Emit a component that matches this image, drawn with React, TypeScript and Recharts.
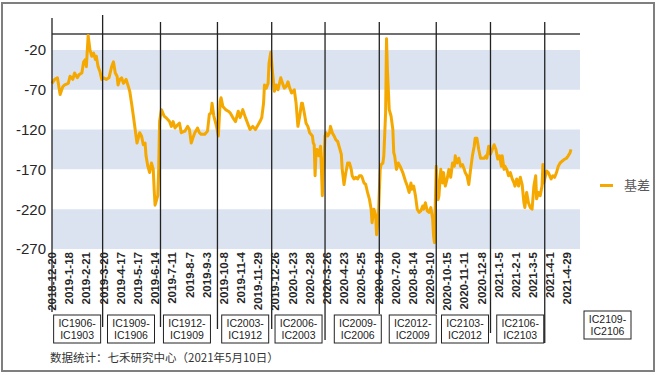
import React from "react";
import { LineChart, Line, XAxis, YAxis, ReferenceArea, ReferenceLine } from "recharts";

// x axis labels, one every 19 trading days starting at 2018-12-20
const tickLabels = [
  "2018-12-20", "2019-1-18", "2019-2-21", "2019-3-20", "2019-4-17", "2019-5-17",
  "2019-6-14", "2019-7-11", "2019-8-7", "2019-9-3", "2019-10-8", "2019-11-4",
  "2019-11-29", "2019-12-26", "2020-1-23", "2020-2-28", "2020-3-26", "2020-4-23",
  "2020-5-25", "2020-6-19", "2020-7-20", "2020-8-14", "2020-9-10", "2020-10-15",
  "2020-11-11", "2020-12-8", "2021-1-5", "2021-2-1", "2021-3-5", "2021-4-1", "2021-4-29",
];
const tickDays = tickLabels.map((_, i) => i * 19);

// trading-day index -> basis (IC continuous)
const days = [
  0, 3, 6, 9, 12, 14, 18, 20, 23, 25, 28, 30, 33, 35, 37, 38, 40, 42, 44, 46, 48, 49, 51, 53, 55, 57,
  60, 63, 66, 68, 70, 72, 73, 75, 77, 79, 82, 85, 86, 88, 90, 92, 94, 96, 97, 99, 101, 103, 104, 106,
  108, 110, 112, 113, 114, 117, 118, 119, 121, 124, 126, 130, 132, 134, 136, 139, 141, 143, 147, 150,
  152, 154, 156, 158, 161, 163, 165, 169, 172, 174, 176, 177, 179, 182, 184, 186, 187, 189, 192, 195,
  197, 200, 203, 206, 208, 211, 214, 217, 219, 222, 225, 228, 230, 232, 234, 235, 237, 239, 240, 242,
  244, 246, 248, 250, 252, 253, 255, 257, 259, 261, 263, 265, 268, 270, 272, 274, 276, 277, 279, 281,
  283, 285, 288, 289, 290, 291, 292, 293, 295, 297, 298, 299, 300, 301, 302, 303, 305, 307, 308, 310,
  312, 314, 316, 318, 320, 321, 323, 325, 327, 329, 331, 332, 334, 336, 338, 340, 342, 343, 345, 347,
  349, 351, 353, 354, 356, 358, 359, 361, 363, 364, 366, 367, 369, 370, 371, 373, 375, 377, 378, 379,
  381, 383, 385, 388, 391, 393, 395, 397, 398, 400, 402, 404, 406, 408, 410, 411, 413, 415, 417, 419,
  421, 422, 423, 424, 425, 427, 428, 430, 432, 433, 435, 437, 439, 441, 443, 445, 446, 448, 450, 452,
  454, 456, 457, 459, 461, 463, 465, 467, 468, 470, 472, 474, 476, 478, 480, 481, 483, 485, 487, 489,
  491, 493, 495, 497, 498, 500, 501, 503, 505, 507, 509, 511, 512, 514, 516, 518, 520, 522, 523, 525,
  527, 529, 531, 533, 535, 536, 538, 540, 542, 543, 544, 547, 549, 552, 554, 556, 558, 560, 562, 564,
  566, 569, 571, 573, 574,
];
const basis = [
  -62, -57, -55, -76, -66, -64, -62, -53, -57, -49, -55, -51, -49, -35, -32, -41, -2, -20, -28, -24, -32, -28, -41, -47, -57, -55,
  -57, -55, -41, -35, -49, -53, -64, -57, -55, -62, -57, -68, -72, -87, -103, -120, -137, -128, -124, -128, -139, -137, -153, -166,
  -174, -162, -170, -195, -215, -203, -170, -110, -95, -103, -105, -110, -116, -110, -118, -114, -112, -124, -122, -116,
  -120, -137, -130, -124, -118, -124, -126, -126, -122, -101, -99, -87, -103, -116, -128, -85, -80, -91, -95, -97,
  -99, -105, -110, -97, -105, -95, -105, -114, -120, -116, -120, -114, -110, -105, -87, -64, -68, -62, -37, -23,
  -49, -72, -64, -70, -60, -55, -62, -68, -66, -60, -68, -74, -70, -87, -116, -103, -87, -87, -99, -112,
  -116, -124, -128, -137, -139, -178, -150, -145, -153, -141, -170, -203, -175, -153, -128, -124, -128, -124, -116, -124,
  -128, -133, -135, -143, -151, -170, -189, -174, -162, -162, -170, -178, -182, -180, -182, -178, -178, -180, -187, -189,
  -199, -207, -220, -237, -220, -228, -252, -228, -170, -164, -162, -153, -99, -6, -45, -95, -103, -120, -149, -153,
  -170, -162, -166, -174, -185, -191, -199, -187, -195, -191, -203, -220, -224, -222, -216, -220, -212, -222, -224, -218,
  -232, -253, -262, -212, -166, -208, -203, -170, -187, -174, -191, -182, -170, -180, -162, -166, -153, -162, -156, -166,
  -164, -170, -174, -178, -189, -170, -153, -141, -131, -131, -145, -156, -156, -156, -153, -156, -141, -151, -145, -139,
  -145, -157, -153, -166, -153, -170, -166, -170, -178, -174, -182, -187, -191, -182, -191, -180, -189, -212, -218, -199,
  -212, -218, -220, -191, -178, -207, -199, -203, -191, -164, -187, -172, -174, -182, -178, -180, -174, -166, -162, -160,
  -158, -156, -153, -149, -145,
];

// contract roll days and the spread labels
const rollDays = [56, 120, 183, 243, 302, 362, 425, 485, 545];
const contractPairs = [
  ["IC1906-", "IC1903"], ["IC1909-", "IC1906"], ["IC1912-", "IC1909"], ["IC2003-", "IC1912"],
  ["IC2006-", "IC2003"], ["IC2009-", "IC2006"], ["IC2012-", "IC2009"], ["IC2103-", "IC2012"],
  ["IC2106-", "IC2103"], ["IC2109-", "IC2106"],
];

const yTicks = [-270, -220, -170, -120, -70, -20];
const bands = [[-70, -20], [-170, -120], [-270, -220]];

// leader line ends and box nudges (px)
const lineBottoms = [327, 327, 329, 329, 340, 314, 314, 333, 343];
const boxNudge = [-1, -5, -6, -2, -2, 3, 1, -1, 0];

const data = days.map((d, i) => ({ d, basis: basis[i] }));
const labelByDay: Record<number, string> = {};
tickDays.forEach((d, i) => (labelByDay[d] = tickLabels[i]));

const FONT = "'Liberation Sans', Arial, sans-serif";
const CJK = "'Noto Sans CJK SC', sans-serif";
const ORANGE = "#f5a800";

function DateTick(props: any) {
  const { x, y, payload } = props;
  return (
    <text
      x={0}
      y={0}
      dy="0.36em"
      textAnchor="end"
      transform={`translate(${x},${y + 3}) rotate(-90)`}
      fontSize={11.5}
      fontWeight="bold"
      fill="#262626"
      fontFamily={FONT}
    >
      {labelByDay[payload.value]}
    </text>
  );
}

function PairBox({ x, top, lines }: { x: number; top: number; lines: string[] }) {
  return (
    <g>
      <rect x={x} y={top} width={47} height={28} fill="#fff" stroke="#222" strokeWidth={1} />
      <text x={x + 23.5} y={top + 11.5} textAnchor="middle" fontSize={10.5} fill="#222" fontFamily={FONT}>
        {lines[0]}
      </text>
      <text x={x + 23.5} y={top + 23.5} textAnchor="middle" fontSize={10.5} fill="#222" fontFamily={FONT}>
        {lines[1]}
      </text>
    </g>
  );
}

export default function App() {
  return (
    <div style={{ position: "absolute", left: 0, top: 0, width: 658, height: 375, background: "#fff" }}>
      <div
        style={{
          position: "absolute",
          left: 1,
          top: 2,
          width: 654,
          height: 370,
          border: "2px solid #7f7f7f",
          boxSizing: "border-box",
        }}
      />
      <LineChart width={658} height={375} data={data} margin={{ top: 34, right: 78, bottom: 66, left: 0 }}>
        {bands.map(([a, b], i) => (
          <ReferenceArea key={`band-${i}`} y1={a} y2={b} fill="#dae3ef" fillOpacity={1} stroke="none" />
        ))}
        <XAxis
          type="number"
          dataKey="d"
          domain={[0, 584]}
          ticks={tickDays}
          interval={0}
          tick={<DateTick />}
          tickLine={false}
          axisLine={false}
          tickSize={0}
          tickMargin={0}
          height={60}
        />
        <YAxis
          domain={[-270, 0]}
          ticks={yTicks}
          width={52}
          axisLine={false}
          tickLine={false}
          tickSize={0}
          tickMargin={6}
          tick={{ fontSize: 15, fill: "#262626", fontFamily: FONT }}
        />
        <ReferenceLine y={0} stroke="#404040" strokeWidth={1.5} />
        <Line
          type="linear"
          dataKey="basis"
          name="基差"
          stroke={ORANGE}
          strokeWidth={3}
          strokeLinejoin="round"
          dot={false}
          activeDot={false}
          isAnimationActive={false}
        />
        <ReferenceLine
          x={0}
          ifOverflow="visible"
          shape={(p: any) => <line x1={p.x1} x2={p.x1} y1={18} y2={312} stroke="#222" strokeWidth={1.3} />}
        />
        {rollDays.map((d, i) => (
          <ReferenceLine
            key={`roll-${i}`}
            x={d}
            ifOverflow="visible"
            shape={(p: any) => (
              <g>
                <line x1={p.x1} x2={p.x1} y1={i === 0 ? 15 : 22} y2={lineBottoms[i]} stroke="#222" strokeWidth={1.3} />
                <PairBox x={p.x1 - 48 + boxNudge[i]} top={315} lines={contractPairs[i]} />
              </g>
            )}
          />
        ))}
        <ReferenceLine
          x={584}
          ifOverflow="visible"
          shape={(p: any) => <PairBox x={p.x1 + 4} top={311} lines={contractPairs[9]} />}
        />
      </LineChart>
      <div
        style={{
          position: "absolute",
          left: 600,
          top: 176,
          display: "flex",
          alignItems: "center",
          fontFamily: CJK,
          lineHeight: "18px",
        }}
      >
        <span style={{ display: "inline-block", width: 13, height: 3, background: ORANGE, marginRight: 11 }} />
        <span style={{ fontSize: 13, color: "#595959" }}>基差</span>
      </div>
      <div
        style={{
          position: "absolute",
          left: 50,
          top: 349,
          fontSize: 11.5,
          color: "#333",
          fontFamily: CJK,
          whiteSpace: "nowrap",
          lineHeight: "16px",
        }}
      >
        数据统计：七禾研究中心（2021年5月10日）
      </div>
    </div>
  );
}
